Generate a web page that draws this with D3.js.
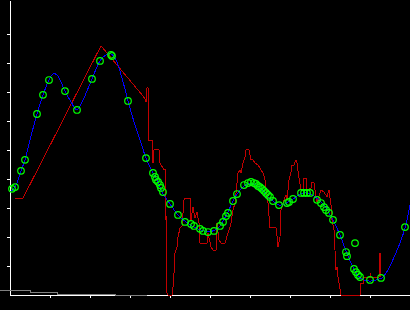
<!DOCTYPE html>
<html>
<head>
<meta charset="utf-8">
<script src="https://cdn.jsdelivr.net/npm/d3@7"></script>
<style>
  html, body { margin: 0; padding: 0; background: #000; overflow: hidden; }
  svg { display: block; }
</style>
</head>
<body>
<div id="chart"></div>
<script>
// measured signal (x, y)
let redX = [1.25, 3.25, 22.75, 33, 33.75, 34, 34.25, 34.5, 34.75, 35.5, 35.75, 36, 37.25, 37.5, 38.5,
    38.75, 38.75, 39, 39.25, 39.5, 40.5, 40.75, 41, 41.25, 41.75, 42, 42.5, 43, 43.5, 43.75, 45,
    45.25, 45.75, 46.25, 46.75, 47.25, 47.5, 49.25, 49.5, 50.25, 50.75, 51.5, 51.75, 52.25, 52.75,
    53.75, 54, 54.5, 55, 55.25, 55.75, 56.25, 56.5, 57, 57.5, 57.75, 58.25, 58.75, 59, 59.75, 60,
    60.25, 60.75, 61.25, 62, 62.5, 62.75, 63.25, 63.75, 64, 64.5, 65, 66.5, 66.75, 67, 67.5, 67.75,
    68, 68.5, 69, 69.25, 69.75, 70.25, 70.5, 71, 71.5, 71.75, 72.25, 72.75, 73.25, 73.5, 74, 74.25,
    75.25, 75.5, 76, 76.5, 76.75, 77.75, 78.5, 79.25, 79.75, 80.25, 80.5, 81, 81.5, 81.75, 82, 82.25,
    82.75, 87.5, 87.75, 88.25, 88.25, 90, 90, 90.25, 92.25, 92.5, 92.75];
let redY = [33.4, 33.4, 85.9, 69.0, 67.6, 66.6, 71.4, 71.7, 53.4, 53.4, 45.5, 50.0, 50.0, 45.5, 43.1,
    43.1, 25.9, 27.9, 0.7, 0, 0, 2.8, 7.6, 14.5, 16.6, 20.0, 23.1, 23.8, 32.8, 33.4, 33.4,
    25.9, 30.3, 26.6, 28.6, 24.8, 17.9, 17.9, 21.4, 16.6, 15.5, 15.5, 24.8, 19.0, 17.9,
    17.9, 19.0, 21.4, 23.4, 24.8, 29.3, 31.7, 35.2, 42.1, 43.1, 42.1, 45.5, 47.6, 50.0, 50.0, 48.3,
    46.6, 46.6, 45.5, 44.8, 43.8, 43.1, 42.1, 39.7, 36.2, 31.7, 23.1, 23.1, 20.3, 16.6, 20.0, 29.3,
    30.3, 32.8, 34.5, 32.8, 39.7, 42.4, 44.8, 44.8, 46.6, 45.5, 40.3, 36.2, 36.2, 40.3, 40.3, 36.2,
    36.9, 39.0, 38.6, 33.8, 32.1, 36.2, 35.5, 33.8, 36.2, 31.0, 25.9, 22.4, 8.6, 9.7, 6.2, 4.1,
    0, 0, 4.1, 4.1, 6.2, 6.2, 7.6, 6.2, 6.2, 14.5, 6.2];

// smooth fit
let fitX = [0, 1.25, 2.75, 3.75, 5, 6.75, 8.25, 9.75, 10.75, 11.75, 12.75, 13.75, 15, 16.75, 18.25,
    20.5, 22.5, 24, 25.25, 26.5, 28, 29.5, 31.25, 32.75, 34, 35.75, 37, 38, 40, 42, 44, 46, 47.75,
    49.5, 51.25, 52.25, 53.25, 54.25, 55.75, 56.75, 58.75, 60, 61.5, 63, 64.5, 66, 67.25, 68.75,
    69.5, 70.75, 72.5, 73.75, 75, 77, 78.25, 79.25, 79.75, 80.75, 82.5, 84, 85.5, 87, 88.5, 90,
    91.5, 93, 94.5, 96.25, 97.5, 98.75, 100];
let fitY = [35.5, 37.2, 42.8, 46.6, 53.4, 62.4, 69.0, 74.1, 76.2, 75.9, 73.4, 70.3, 67.2, 63.8, 67.2,
    74.5, 80.7, 82.8, 83.1, 81.0, 74.8, 66.9, 58.6, 52.4, 47.2, 42.1, 39.0, 35.5, 31.4, 27.6, 25.2, 23.4, 22.4,
    21.7, 22.4, 23.4, 25.5, 27.9, 32.4, 34.8, 37.9, 38.6, 37.9, 36.2, 33.8, 32.1, 31.0, 31.4,
    32.1, 33.1, 34.8, 35.2, 34.8, 33.1, 31.4, 29.7, 28.3, 25.9, 20.7, 15.2, 10.3, 6.6, 5.2, 4.8,
    5.2, 5.9, 8.6, 13.8, 17.9, 23.1, 31.0];

// sample points
let ptX = [0.5, 1.25, 2.75, 3.75, 6.75, 8.25, 9.75, 13.75, 16.75, 20.5, 22.5, 25.25, 25.5, 29.5,
    34, 35.75, 36.25, 36.5, 37, 37.5, 37.75, 38.25, 40, 42, 43.75, 45.25, 46, 47.5, 48.25, 49.5,
    51, 52.5, 53.25, 54, 54.5, 55.75, 56.75, 58.5, 59.5, 60.25, 61, 61.5, 62, 62.5, 63, 63.5, 64,
    64.5, 65, 65.75, 67.25, 69.25, 69.75, 70.75, 72.75, 73.5, 74.25, 75, 76.75, 77.75, 78.5, 79,
    79.75, 80.75, 82.5, 86.25, 84, 84.25, 86, 86.5, 87, 87.5, 90, 92.75, 98.75];
let ptY = [36.6, 37.2, 42.8, 46.6, 62.4, 69.0, 74.1, 70.3, 63.8, 74.5, 80.7, 82.8, 82.4, 66.9,
    47.2, 42.1, 40.7, 39.7, 39.0, 37.9, 36.9, 35.5, 31.4, 27.6, 25.2, 24.5, 23.8, 22.8, 22.1, 21.7,
    22.1, 23.8, 25.2, 27.2, 28.3, 32.4, 34.8, 37.9, 38.6, 39.0, 38.6, 38.3, 37.6, 37.2, 36.6, 35.9, 35.2,
    34.5, 33.8, 32.4, 31.0, 31.7, 32.1, 33.1, 35.2, 35.2, 35.2, 35.2, 32.8, 31.7, 30.3, 29.3,
    28.3, 25.9, 20.7, 17.9, 14.8, 13.4, 9.0, 7.9, 6.9, 6.2, 5.2, 5.9, 23.4];

// baseline trace
let baseX = [-2.5, 5, 11.75, 26.25, 34.25];
let baseY = [1.4, 0.9, 0.3, 0, 0];

let tickVals = d3.range(10, 101, 10);

let svgWidth = 410;
let svgHeight = 310;
let svg = d3.select("#chart").append("svg")
    .attr('width', svgWidth)
    .attr('height', svgHeight)
    .attr('shape-rendering', 'crispEdges')
    .style('background', '#000');

let x = d3.scaleLinear().domain([0, 100]).range([10, 410]);
let y = d3.scaleLinear().domain([0, 101.7]).range([295, 0]);

function zip(xs, ys) {
    return xs.map(function (v, i) { return { x: v, y: ys[i] }; });
}

let xAxis = svg.append('g')
    .attr('transform', 'translate(0,295)')
    .call(d3.axisBottom(x).tickValues(tickVals).tickSize(3).tickSizeOuter(0).tickFormat(''));
let yAxis = svg.append('g')
    .attr('transform', 'translate(10,0)')
    .call(d3.axisLeft(y).tickValues(d3.range(10, 100, 10)).tickSize(3).tickSizeOuter(0).tickFormat(''));
svg.selectAll('.domain, .tick line').attr('stroke', '#fff');

let line = d3.line()
    .x(function (d) { return x(d.x); })
    .y(function (d) { return y(d.y); });

svg.append('path')
    .attr('d', line(zip(redX, redY)))
    .attr('fill', 'none')
    .attr('stroke', '#c00000')
    .attr('stroke-width', 1);

svg.append('path')
    .attr('d', line.curve(d3.curveStepAfter)(zip(baseX, baseY)))
    .attr('fill', 'none')
    .attr('stroke', '#808080')
    .attr('stroke-width', 1);

svg.append('path')
    .attr('d', line.curve(d3.curveCatmullRom)(zip(fitX, fitY)))
    .attr('fill', 'none')
    .attr('stroke', '#0000ff')
    .attr('stroke-width', 1);

// circles look better antialiased
svg.append('g').attr('shape-rendering', 'auto').selectAll('circle')
    .data(zip(ptX, ptY))
    .enter().append('circle')
    .attr('cx', function (d) { return x(d.x); })
    .attr('cy', function (d) { return y(d.y); })
    .attr('r', 3.3)
    .attr('fill', 'none')
    .attr('stroke', '#00ff00')
    .attr('stroke-width', 1.2);
</script>
</body>
</html>
